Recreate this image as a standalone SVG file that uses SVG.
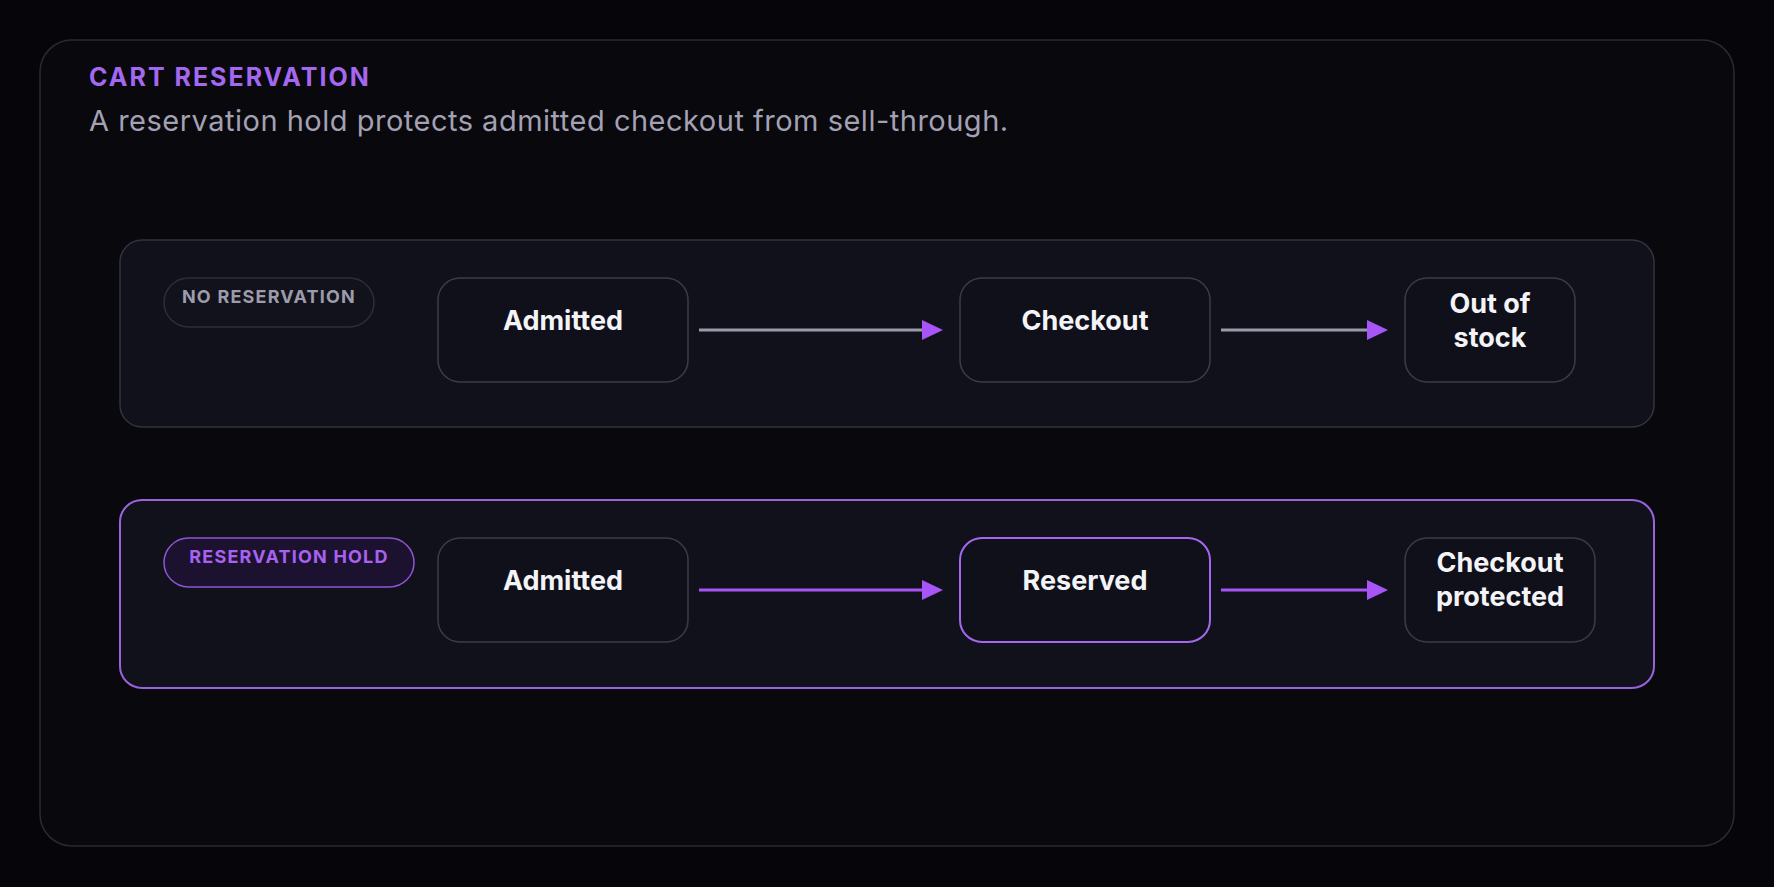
<svg xmlns="http://www.w3.org/2000/svg" width="1774" height="887" viewBox="0 0 1774 887">
<style>
.title{font-family:Inter,"Liberation Sans",sans-serif;font-weight:700;font-size:25px;letter-spacing:2px;fill:#a468f0}
.sub{font-family:Inter,"Liberation Sans",sans-serif;font-weight:400;font-size:29px;letter-spacing:0.5px;fill:#a3a1b3}
.panel{fill:#10111a;stroke:#33333f;stroke-width:1.5}
.panel.hl{stroke:#9a62dc;stroke-width:2}
.node{fill:#0f1019;stroke:#3c3c49;stroke-width:1.5}
.node.hl{stroke:#a468f0;stroke-width:2}
.nt{font-family:Inter,"Liberation Sans",sans-serif;font-weight:700;font-size:27px;fill:#f4f4f8;text-anchor:middle}
.pill{fill:#11121b;stroke:#2e2e3a;stroke-width:1.5}
.pill.hl{fill:#1c1230;stroke:#8e55d4}
.pt{font-family:Inter,"Liberation Sans",sans-serif;font-weight:700;font-size:18px;letter-spacing:1.2px;text-anchor:middle;fill:#9e9cac}
.pt.hl{fill:#a862f0}
.ln{stroke:#9c9aaa;stroke-width:3;fill:none}
.ln.hl{stroke:#a855f7}
.ah{fill:#a855f7}
</style>
<rect width="1774" height="887" fill="#06060a"/>
<rect x="40" y="40" width="1694" height="806" rx="32" fill="#08080d" stroke="#2a2a33" stroke-width="1.5"/>
<text class="title" x="89" y="86">CART RESERVATION</text>
<text class="sub" x="89" y="131">A reservation hold protects admitted checkout from sell-through.</text>

<g id="lane-no-reservation">
<rect class="panel" x="120" y="240" width="1534" height="187" rx="22"/>
<rect class="pill" x="164" y="278" width="210" height="49" rx="24.5"/>
<text class="pt" x="269" y="303">NO RESERVATION</text>
</g>
<g id="lane-reservation-hold">
<rect class="panel hl" x="120" y="500" width="1534" height="188" rx="22"/>
<rect class="pill hl" x="164" y="538" width="250" height="49" rx="24.5"/>
<text class="pt hl" x="289" y="563">RESERVATION HOLD</text>
</g>

<g id="node-admitted-1"><rect class="node" x="438" y="278" width="250" height="104" rx="22"/><text class="nt" x="563" y="330">Admitted</text></g>
<g id="node-checkout"><rect class="node" x="960" y="278" width="250" height="104" rx="22"/><text class="nt" x="1085" y="330">Checkout</text></g>
<g id="node-out-of-stock"><rect class="node" x="1405" y="278" width="170" height="104" rx="22"/><text class="nt" x="1490" y="313">Out of</text><text class="nt" x="1490" y="347">stock</text></g>

<g id="node-admitted-2"><rect class="node" x="438" y="538" width="250" height="104" rx="22"/><text class="nt" x="563" y="590">Admitted</text></g>
<g id="node-reserved"><rect class="node hl" x="960" y="538" width="250" height="104" rx="22"/><text class="nt" x="1085" y="590">Reserved</text></g>
<g id="node-checkout-protected"><rect class="node" x="1405" y="538" width="190" height="104" rx="22"/><text class="nt" x="1500" y="572">Checkout</text><text class="nt" x="1500" y="606">protected</text></g>

<g id="connectors">
<line class="ln" x1="699" y1="330" x2="924" y2="330"/><polygon class="ah" points="922,320 943,330 922,340"/>
<line class="ln" x1="1221" y1="330" x2="1368" y2="330"/><polygon class="ah" points="1367,320 1388,330 1367,340"/>
<line class="ln hl" x1="699" y1="590" x2="924" y2="590"/><polygon class="ah" points="922,580 943,590 922,600"/>
<line class="ln hl" x1="1221" y1="590" x2="1368" y2="590"/><polygon class="ah" points="1367,580 1388,590 1367,600"/>
</g>
</svg>
